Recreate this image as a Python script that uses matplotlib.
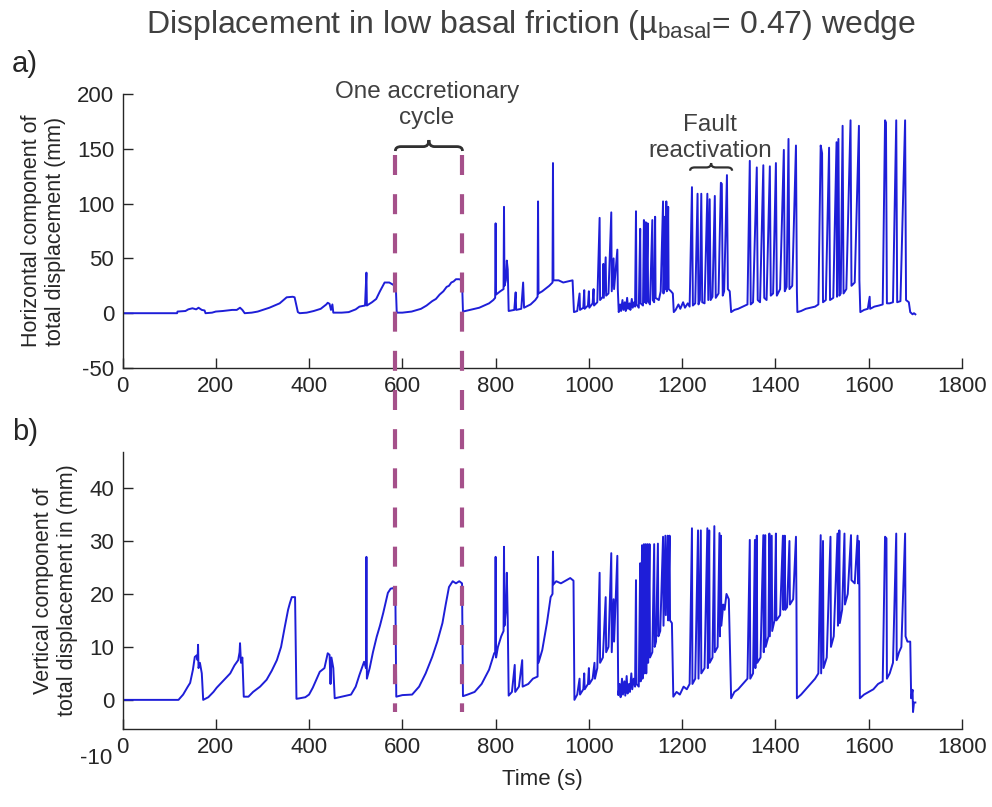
import numpy as np
import matplotlib
matplotlib.use("Agg")
import matplotlib.pyplot as plt
from matplotlib.path import Path
from matplotlib.patches import PathPatch
from matplotlib.lines import Line2D
from matplotlib.transforms import blended_transform_factory

plt.rcParams["font.family"] = ["Liberation Sans", "DejaVu Sans"]
plt.rcParams["mathtext.fontset"] = "custom"
plt.rcParams["mathtext.rm"] = "Liberation Sans"
plt.rcParams["axes.unicode_minus"] = False

# ---- data: (time s, displacement mm) ----
horiz_pts = [
    (0, 0), (117, 0), (118, 1.5), (135, 2), (141, 3.5), (150, 4.5), (158, 3.5), (163, 5), (170, 3), (176, 2.5), (178, 0),
    (192, 0.5), (200, 1.5), (215, 2), (235, 3), (245, 3), (252, 5), (257, 3), (262, 0),
    (277, 0.5), (290, 1.5), (301, 3), (315, 5), (337, 9), (345, 12), (352, 14.5), (365, 15), (369, 14.5), (376, 1), (380, 0),
    (395, 0.5), (410, 2), (425, 4), (437, 8), (440, 9.5), (444, 8.5), (447, 3), (450, 8), (452, 0.5),
    (470, 0.5), (485, 1), (500, 3.5), (508, 6), (520, 7), (523, 37), (524, 7), (535, 10), (544, 13), (552, 20),
    (562, 28), (572, 28), (580, 26), (586, 25), (588, 0.5),
    (600, 0.5), (620, 1.5), (632, 3), (640, 4), (652, 7), (664, 11), (672, 13), (680, 17), (688, 20), (695, 24),
    (700, 25), (705, 28), (710, 29), (715, 31), (722, 31), (728, 30), (730, 1.5),
    (745, 3), (765, 5), (786, 9), (795, 12), (799, 14), (800, 82), (801, 17), (810, 20), (817, 22), (818, 97), (819, 25),
    (822, 30), (824, 48), (826, 40), (828, 2),
    (840, 3), (843, 19), (844, 3), (855, 4), (859, 28), (861, 5), (875, 8), (885, 12), (890, 15), (891, 102), (892, 18),
    (900, 20), (915, 25), (922, 28), (923, 137), (924, 30), (935, 30), (945, 28), (955, 29), (965, 30), (968, 1),
    (975, 2), (980, 18), (981, 3), (988, 5), (990, 21), (991, 4), (998, 7), (1000, 20), (1001, 5), (1008, 9), (1010, 22),
    (1011, 7), (1018, 10), (1023, 87), (1024, 12), (1030, 15), (1031, 45), (1032, 14), (1036, 51), (1037, 16), (1042, 18),
    (1048, 92), (1049, 20), (1053, 50), (1054, 22), (1061, 58), (1062, 22), (1064, 1),
    (1067, 8), (1069, 2), (1072, 12), (1074, 3), (1077, 10), (1079, 2), (1082, 14), (1084, 4), (1087, 9), (1089, 3),
    (1092, 13), (1094, 5), (1097, 10), (1099, 6),
    (1101, 93), (1102, 8), (1107, 5), (1110, 77), (1111, 9), (1116, 7), (1118, 85), (1119, 10), (1122, 83), (1123, 9),
    (1126, 82), (1127, 11), (1131, 8), (1136, 85), (1137, 12), (1140, 10), (1142, 88), (1143, 14), (1150, 12), (1154, 20),
    (1159, 102), (1160, 18), (1163, 88), (1164, 22), (1166, 102), (1167, 20), (1170, 97), (1171, 22), (1176, 20),
    (1180, 18), (1182, 1),
    (1186, 3), (1192, 8), (1196, 4), (1202, 10), (1206, 5), (1212, 9), (1216, 6), (1221, 115), (1223, 7), (1228, 9),
    (1233, 109), (1235, 8), (1238, 12), (1241, 109), (1243, 10), (1248, 9), (1254, 109), (1256, 12), (1259, 104),
    (1261, 12), (1265, 15), (1270, 107), (1272, 14), (1278, 18), (1283, 119), (1285, 118), (1287, 16), (1290, 20),
    (1296, 126), (1298, 22), (1302, 20), (1305, 1),
    (1312, 3), (1320, 4), (1330, 6), (1340, 8), (1345, 139), (1347, 8), (1352, 10), (1360, 133), (1362, 12), (1367, 10),
    (1374, 135), (1376, 14), (1381, 12), (1388, 134), (1390, 16), (1395, 18), (1401, 137), (1403, 16), (1410, 22),
    (1418, 149), (1420, 20), (1424, 24), (1428, 159), (1430, 22), (1436, 25), (1444, 153), (1446, 20), (1447, 1),
    (1455, 2), (1465, 4), (1475, 5), (1485, 6), (1492, 8), (1497, 153), (1500, 146), (1502, 10), (1508, 12),
    (1515, 151), (1517, 12), (1524, 14), (1531, 156), (1532, 15), (1535, 159), (1537, 16), (1540, 18), (1544, 171),
    (1546, 18), (1552, 22), (1561, 176), (1563, 25), (1570, 28), (1579, 171), (1580, 30), (1582, 1),
    (1590, 3), (1598, 4), (1602, 15), (1603, 4), (1612, 6), (1622, 7), (1630, 8), (1635, 176), (1637, 174), (1639, 9),
    (1645, 9), (1652, 10), (1659, 176), (1661, 10), (1668, 11), (1678, 176), (1680, 12), (1686, 10), (1689, 1),
    (1694, -1), (1697, 0), (1700, -1),
]

vert_pts = [
    (0, 0), (120, 0), (130, 1), (140, 2.5), (145, 3.2), (151, 5.7), (155, 8.1), (159, 8.4), (161, 7.5), (162, 10.4),
    (163, 6), (166, 7), (170, 5), (173, 0),
    (184, 0.5), (195, 1.5), (202, 2.3), (215, 3.5), (231, 5), (240, 6.5), (248, 7.5), (251, 9), (252, 10.7), (254, 7),
    (257, 8), (260, 0.6),
    (270, 0.6), (280, 1.5), (295, 2.5), (309, 3.8), (320, 5.5), (331, 7.5), (340, 10), (348, 13.8), (355, 17),
    (359, 18.3), (363, 19.4), (370, 19.4), (373, 0.2),
    (380, 0.3), (392, 0.5), (400, 1), (408, 2.3), (415, 3.7), (423, 5.3), (433, 6), (440, 8.8), (444, 8.5), (446, 3),
    (448, 8), (452, 6), (455, 0.3),
    (465, 0.5), (475, 0.7), (490, 1), (500, 2.5), (508, 4.7), (518, 7.2), (522, 6), (523, 27), (524, 4), (530, 6),
    (537, 9), (545, 11.9), (552, 14), (559, 16.4), (569, 20.2), (575, 21), (580, 21.1), (585, 20.5), (587, 0.6),
    (600, 0.9), (621, 1), (636, 2.5), (650, 5), (664, 8.1), (675, 11), (686, 14.5), (693, 18), (700, 21.3),
    (708, 22.4), (715, 22), (722, 22.4), (728, 22), (730, 0.7),
    (740, 1), (755, 1.5), (770, 3), (786, 5.7), (797, 8.8), (799, 9), (800, 27), (801, 8), (805, 10), (812, 12),
    (817, 13), (818, 28.9), (819, 14), (822, 17), (824, 24), (826, 15), (828, 0.8),
    (835, 1.5), (841, 6.6), (842, 1.5), (850, 2.5), (857, 7.5), (858, 2.5), (870, 3), (880, 4), (890, 4.4),
    (891, 27), (892, 7), (900, 9.4), (910, 14.5), (918, 19.4), (922, 20), (923, 28), (924, 21.8), (930, 22.4),
    (940, 22), (950, 22.5), (960, 23), (967, 22.5), (969, 0),
    (975, 1), (980, 4), (981, 1), (988, 2), (990, 5), (991, 2), (998, 3), (1000, 6), (1001, 3), (1008, 4), (1012, 7),
    (1013, 4), (1018, 6), (1023, 24), (1024, 7), (1030, 8), (1036, 19.4), (1037, 9), (1042, 10), (1048, 27.7),
    (1049, 9), (1053, 19), (1054, 11), (1061, 27.2), (1062, 11.3), (1063, 0.9),
    (1066, 3), (1068, 0.5), (1071, 4), (1073, 1), (1076, 3.5), (1078, 0.8), (1081, 4.5), (1083, 1.2), (1086, 3),
    (1088, 1.5), (1091, 5), (1093, 2), (1096, 4), (1099, 2.5),
    (1101, 22.6), (1102, 3), (1107, 2.5), (1110, 25.8), (1111, 3.5), (1114, 29.2), (1115, 4), (1118, 29.4), (1119, 5),
    (1122, 29.4), (1123, 5), (1126, 29.4), (1127, 7), (1130, 29.4), (1131, 8), (1136, 9), (1140, 29.4), (1141, 10),
    (1144, 11), (1148, 29.5), (1149, 12), (1153, 13), (1159, 30.8), (1160, 14), (1164, 31), (1165, 16), (1169, 31),
    (1170, 15), (1173, 31), (1174, 15), (1178, 14.5), (1181, 0.6),
    (1188, 1.5), (1195, 1), (1203, 2.5), (1210, 2), (1216, 3), (1221, 32.4), (1222, 3), (1228, 4), (1234, 32),
    (1235, 4), (1240, 32), (1241, 5), (1248, 6), (1254, 32.4), (1255, 6), (1258, 32), (1259, 7), (1265, 8),
    (1269, 32.8), (1270, 9), (1276, 10), (1280, 31.5), (1281, 12), (1283, 31), (1284, 14), (1288, 18), (1291, 17),
    (1295, 20), (1300, 19), (1305, 0.3),
    (1312, 1.5), (1320, 2), (1330, 3), (1340, 4), (1345, 30.2), (1346, 4), (1352, 5), (1356, 30.2), (1357, 6),
    (1360, 31), (1361, 7), (1368, 8), (1374, 31.1), (1375, 9), (1378, 31.1), (1379, 10), (1385, 12), (1387, 31.4),
    (1388, 12), (1392, 31), (1393, 13), (1398, 15), (1401, 31.4), (1402, 15), (1410, 16), (1416, 31), (1417, 17),
    (1420, 31), (1421, 17), (1425, 17.5), (1430, 30), (1431, 18), (1438, 19), (1444, 30.8), (1445, 19), (1446, 0.3),
    (1455, 1), (1465, 2), (1475, 3), (1485, 4), (1492, 5), (1497, 31.1), (1498, 5), (1502, 30), (1503, 6), (1510, 8),
    (1518, 30.8), (1519, 10), (1525, 12), (1533, 31.4), (1534, 14), (1537, 32), (1538, 14.5), (1543, 17),
    (1548, 31.4), (1549, 18), (1555, 20), (1562, 31.1), (1563, 22.6), (1570, 22), (1576, 31), (1577, 22),
    (1579, 30), (1580, 21), (1581, 0.3),
    (1590, 1), (1600, 1.5), (1610, 2), (1620, 3), (1630, 3.5), (1635, 30.8), (1638, 30.5), (1639, 4), (1645, 5),
    (1652, 7), (1659, 31.4), (1660, 7.5), (1665, 9), (1670, 10), (1678, 31.4), (1679, 12), (1683, 11), (1689, 11),
    (1691, 0.3), (1694, 1.9), (1695, -2.3), (1697, -0.5), (1700, -0.5),
]

cycle_bounds = [585, 729]          # dashed lines (s)
fault_span = [1217, 1307]          # "Fault reactivation" brace (s)
xticks = np.arange(0, 1801, 200)
yticks_a = np.arange(-50, 201, 50)
yticks_b = np.arange(0, 41, 10)

horiz_t, horiz_mm = np.array(horiz_pts).T
vert_t, vert_mm = np.array(vert_pts).T

LINE = "#1e1ed8"
DASH = "#a5508a"
TXT = "#404040"
AX = "#262626"

W, H = 992, 807
fig = plt.figure(figsize=(W / 100, H / 100), dpi=100)


def px_axes(x0, x1, ytop, ybot):
    return fig.add_axes([x0 / W, 1 - ybot / H, (x1 - x0) / W, (ybot - ytop) / H])


def style(ax):
    for s in ("top", "right"):
        ax.spines[s].set_visible(False)
    for s in ("left", "bottom"):
        ax.spines[s].set_color(AX)
        ax.spines[s].set_linewidth(1.0)
    ax.tick_params(direction="in", length=7, width=1.0, colors=AX, labelsize=16, pad=6)
    ax.set_xlim(0, 1800)
    ax.set_xticks(xticks)


def brace(ax, x0, x1, y, h, d, q, lw=2.0):
    xm = (x0 + x1) / 2
    verts = [(x0, y - d), (x0, y), (x0 + q, y), (xm - q, y), (xm, y), (xm, y + h),
             (xm, y), (xm + q, y), (x1 - q, y), (x1, y), (x1, y - d)]
    codes = [Path.MOVETO, Path.CURVE3, Path.CURVE3, Path.LINETO, Path.CURVE3, Path.CURVE3,
             Path.CURVE3, Path.CURVE3, Path.LINETO, Path.CURVE3, Path.CURVE3]
    ax.add_patch(PathPatch(Path(verts, codes), fill=False, ec="#303030", lw=lw, clip_on=False))


# ---- a) horizontal ----
ax_a = px_axes(122.5, 962, 94, 368)
style(ax_a)
ax_a.plot(horiz_t, horiz_mm, color=LINE, lw=1.4)
ax_a.set_ylim(-50, 200)
ax_a.set_yticks(yticks_a)
ax_a.set_ylabel("Horizontal component of\ntotal displacement (mm)", fontsize=15.5, color=AX, labelpad=8,
                linespacing=1.2)

brace(ax_a, cycle_bounds[0], cycle_bounds[1], 152, 6, 4, 12)
ax_a.text(sum(cycle_bounds) / 2 - 4, 190, "One accretionary\ncycle", ha="center", va="center",
          fontsize=17.5, color=TXT, linespacing=1.2)
brace(ax_a, fault_span[0], fault_span[1], 133, 4, 3, 10, lw=1.6)
ax_a.text(sum(fault_span) / 2 - 2, 160, "Fault\nreactivation", ha="center", va="center",
          fontsize=17.5, color=TXT, linespacing=1.2)

# ---- b) vertical ----
ax_b = px_axes(122.5, 962, 452, 729)
style(ax_b)
ax_b.plot(vert_t, vert_mm, color=LINE, lw=1.4)
ax_b.set_ylim(-5.5, 46.8)
ax_b.set_yticks(yticks_b)
ax_b.text(-0.012, -11, "-10", transform=ax_b.get_yaxis_transform(), ha="right", va="center",
          fontsize=16, color=AX)
ax_b.set_ylabel("Vertical component of\ntotal displacement in (mm)", fontsize=15.5, color=AX, labelpad=8,
                linespacing=1.2)
ax_b.set_xlabel("Time (s)", fontsize=16, color=AX, labelpad=8)

# dashed cycle markers spanning both panels
tr = blended_transform_factory(ax_a.transData, fig.transFigure)
for t in cycle_bounds:
    fig.add_artist(Line2D([t, t], [1 - 155 / H, 1 - 712 / H], transform=tr, color=DASH, lw=3,
                          dashes=(4.8, 4.6)))

fig.text(0.535, 1 - 25 / H, "Displacement in low basal friction (µ$_{\\mathrm{basal}}$= 0.47) wedge",
         ha="center", va="center", fontsize=23, color=TXT)
fig.text(12 / W, 1 - 64 / H, "a)", ha="left", va="center", fontsize=21, color=AX)
fig.text(12 / W, 1 - 432 / H, "b)", ha="left", va="center", fontsize=21, color=AX)

fig.savefig("out.png", dpi=100)
